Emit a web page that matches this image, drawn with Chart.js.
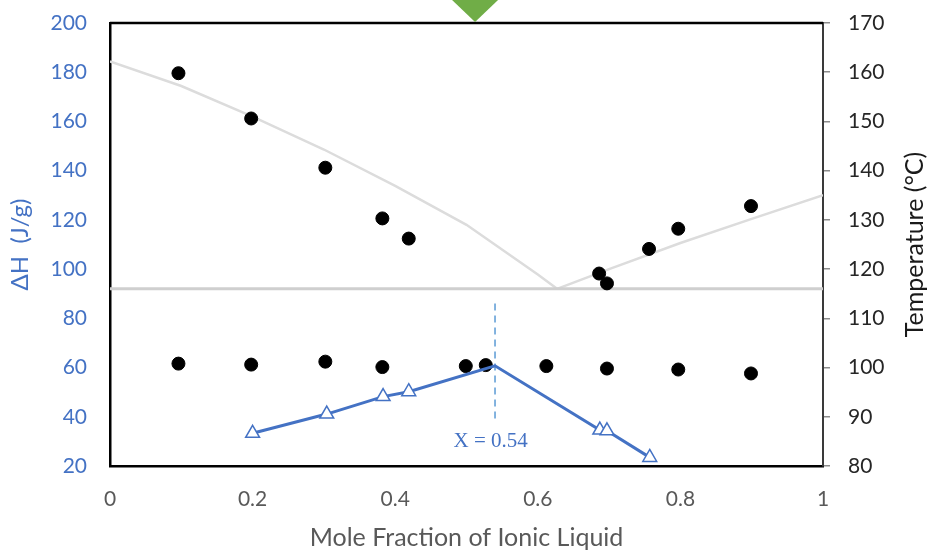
<!DOCTYPE html>
<html>
<head>
<meta charset="utf-8">
<title>Phase diagram and enthalpy</title>
<script src="https://cdn.jsdelivr.net/npm/chart.js@4.4.1/dist/chart.umd.min.js"></script>
<style>
  html, body { margin: 0; padding: 0; background: #fff; }
  #wrap { width: 928px; height: 553px; }
</style>
</head>
<body>
<div id="wrap"><canvas id="chart" width="928" height="553"></canvas></div>
<script>
/* ---------- data ---------- */
// liquidus measurements (black dots, upper branch) - right axis, °C
const liquidusX = [0.096, 0.198, 0.302, 0.382, 0.419, 0.686, 0.697, 0.756, 0.797, 0.899];
const liquidusT = [159.8, 150.6, 140.6, 130.3, 126.2, 119.1, 117.1, 124.1, 128.2, 132.8];

// solidus measurements (black dots, ~100 °C row)
const solidusX = [0.096, 0.198, 0.302, 0.382, 0.499, 0.527, 0.612, 0.697, 0.797, 0.899];
const solidusT = [100.8, 100.6, 101.2, 100.1, 100.3, 100.5, 100.3, 99.8, 99.6, 98.8];

// ideal liquidus curves (light grey)
const idealLeftX  = [0, 0.1, 0.2, 0.3, 0.4, 0.5, 0.6, 0.627];
const idealLeftT  = [162.2, 157.2, 151.0, 144.3, 136.9, 129.0, 118.9, 116.0];
const idealRightX = [0.627, 0.7, 0.8, 0.9, 1.0];
const idealRightT = [116.0, 120.0, 125.3, 130.2, 135.0];

// eutectic line
const eutecticX = [0, 1];
const eutecticT = [116, 116];

// enthalpy of fusion (blue triangles) - left axis, J/g
const enthalpyX = [0.200, 0.304, 0.383, 0.419, 0.540, 0.687, 0.697, 0.757];
const enthalpyH = [33.3, 41.1, 48.2, 50.2, 60.7, 34.6, 34.3, 23.5];

// marker for the maximum
const peakX = 0.54;
const peakLineH = [86, 39];
const peakLabel = "X = 0.54";

const xTicks = [0, 0.2, 0.4, 0.6, 0.8, 1];

const BLUE = "#4472C4";
const FONT = "Lato";
const pts = (xs, ys) => xs.map((x, i) => ({ x, y: ys[i] }));

// fixed axis sizes so the plot frame lands where the original one is
const fixY = w => s => { s.width = w; s.paddingTop = 0; s.paddingBottom = 0; };

/* ---------- extra drawing: frame, label, right title, green marker ---------- */
const decorations = {
  id: "decorations",
  beforeDatasetsDraw(chart) {
    const { ctx, chartArea: a } = chart;
    ctx.save();
    ctx.strokeStyle = "#000";
    ctx.lineWidth = 2.5;
    ctx.beginPath();
    ctx.moveTo(a.left, a.top);
    ctx.lineTo(a.right, a.top);
    ctx.stroke();
    ctx.restore();
  },
  afterDraw(chart) {
    const { ctx, chartArea: a, scales } = chart;
    ctx.save();
    // label next to the dashed line
    ctx.fillStyle = BLUE;
    ctx.font = '21px "Liberation Serif", "Times New Roman", serif';
    ctx.textAlign = "center";
    ctx.textBaseline = "middle";
    ctx.fillText(peakLabel, scales.x.getPixelForValue(peakX - 0.006), scales.yH.getPixelForValue(30));
    // right axis title, reading bottom to top like the left one
    ctx.save();
    ctx.translate(chart.width - 13, (a.top + a.bottom) / 2);
    ctx.rotate(-Math.PI / 2);
    ctx.fillStyle = "#1A1A1A";
    ctx.font = "25px " + FONT;
    ctx.fillText("Temperature (°C)", 0, 0);
    ctx.restore();
    // green down-pointing marker above the frame
    const gx = scales.x.getPixelForValue(0.512);
    ctx.fillStyle = "#70AD47";
    ctx.beginPath();
    ctx.moveTo(gx - 23, 0);
    ctx.lineTo(gx + 23, 0);
    ctx.lineTo(gx, a.top - 1);
    ctx.closePath();
    ctx.fill();
    ctx.restore();
  }
};

const ctx = document.getElementById("chart").getContext("2d");
new Chart(ctx, {
  type: "scatter",
  data: {
    datasets: [
      {
        label: "Liquidus",
        data: pts(liquidusX, liquidusT),
        yAxisID: "yT",
        backgroundColor: "#000",
        borderColor: "#000",
        pointRadius: 6.5,
        order: 2,
      },
      {
        label: "Solidus",
        data: pts(solidusX, solidusT),
        yAxisID: "yT",
        backgroundColor: "#000",
        borderColor: "#000",
        pointRadius: 6.5,
        order: 2,
      },
      {
        label: "Ideal left",
        data: pts(idealLeftX, idealLeftT),
        yAxisID: "yT",
        showLine: true,
        borderColor: "#DCDCDC",
        borderWidth: 2.5,
        pointRadius: 0,
        order: 5,
      },
      {
        label: "Ideal right",
        data: pts(idealRightX, idealRightT),
        yAxisID: "yT",
        showLine: true,
        borderColor: "#DCDCDC",
        borderWidth: 2.5,
        pointRadius: 0,
        order: 5,
      },
      {
        label: "Eutectic",
        data: pts(eutecticX, eutecticT),
        yAxisID: "yT",
        showLine: true,
        borderColor: "#CFCFCF",
        borderWidth: 3,
        pointRadius: 0,
        order: 4,
      },
      {
        label: "Peak",
        data: pts([peakX, peakX], peakLineH),
        yAxisID: "yH",
        showLine: true,
        borderColor: "#5B9BD5",
        borderWidth: 1.5,
        borderDash: [7, 5],
        pointRadius: 0,
        order: 3,
      },
      {
        label: "ΔH",
        data: pts(enthalpyX, enthalpyH),
        yAxisID: "yH",
        showLine: true,
        borderColor: BLUE,
        borderWidth: 3,
        pointStyle: "triangle",
        pointRadius: enthalpyX.map(x => (x === peakX ? 0 : 8)),
        pointBorderWidth: 1.5,
        pointBorderColor: BLUE,
        pointBackgroundColor: "#fff",
        order: 1,
      },
    ],
  },
  options: {
    responsive: false,
    animation: false,
    layout: { padding: { top: 23, left: 4, right: 0, bottom: 0 } },
    plugins: { legend: { display: false }, tooltip: { enabled: false } },
    scales: {
      x: {
        type: "linear",
        min: 0, max: 1,
        afterBuildTicks: s => { s.ticks = xTicks.map(v => ({ value: v })); },
        grid: { display: false },
        border: { color: "#000", width: 2.5 },
        ticks: {
          color: "#595959", font: { family: FONT, size: 21 }, padding: 13,
          callback: v => String(v),
        },
        title: {
          display: true,
          text: "Mole Fraction of Ionic Liquid",
          color: "#595959",
          font: { family: FONT, size: 25 },
          padding: { top: 0, bottom: 0 },
        },
        afterFit: s => { s.height = 87; },
      },
      yH: {
        position: "left",
        min: 20, max: 200,
        grid: { display: false },
        border: { color: "#000", width: 2.5 },
        ticks: { stepSize: 20, color: BLUE, font: { family: FONT, size: 21 }, padding: 15 },
        title: {
          display: true,
          text: "ΔH  (J/g)",
          color: BLUE,
          font: { family: FONT, size: 24 },
          padding: { top: 2, bottom: 4 },
        },
        afterFit: fixY(106),
      },
      yT: {
        position: "right",
        min: 80, max: 170,
        grid: { display: true, drawOnChartArea: false, tickLength: 7, color: "#8C8C8C", lineWidth: 1.5 },
        border: { color: "#3A3A3A", width: 2 },
        ticks: { stepSize: 10, color: "#262626", font: { family: FONT, size: 21 }, padding: 18 },
        afterFit: fixY(105),
      },
    },
  },
  plugins: [decorations],
});
</script>
</body>
</html>
